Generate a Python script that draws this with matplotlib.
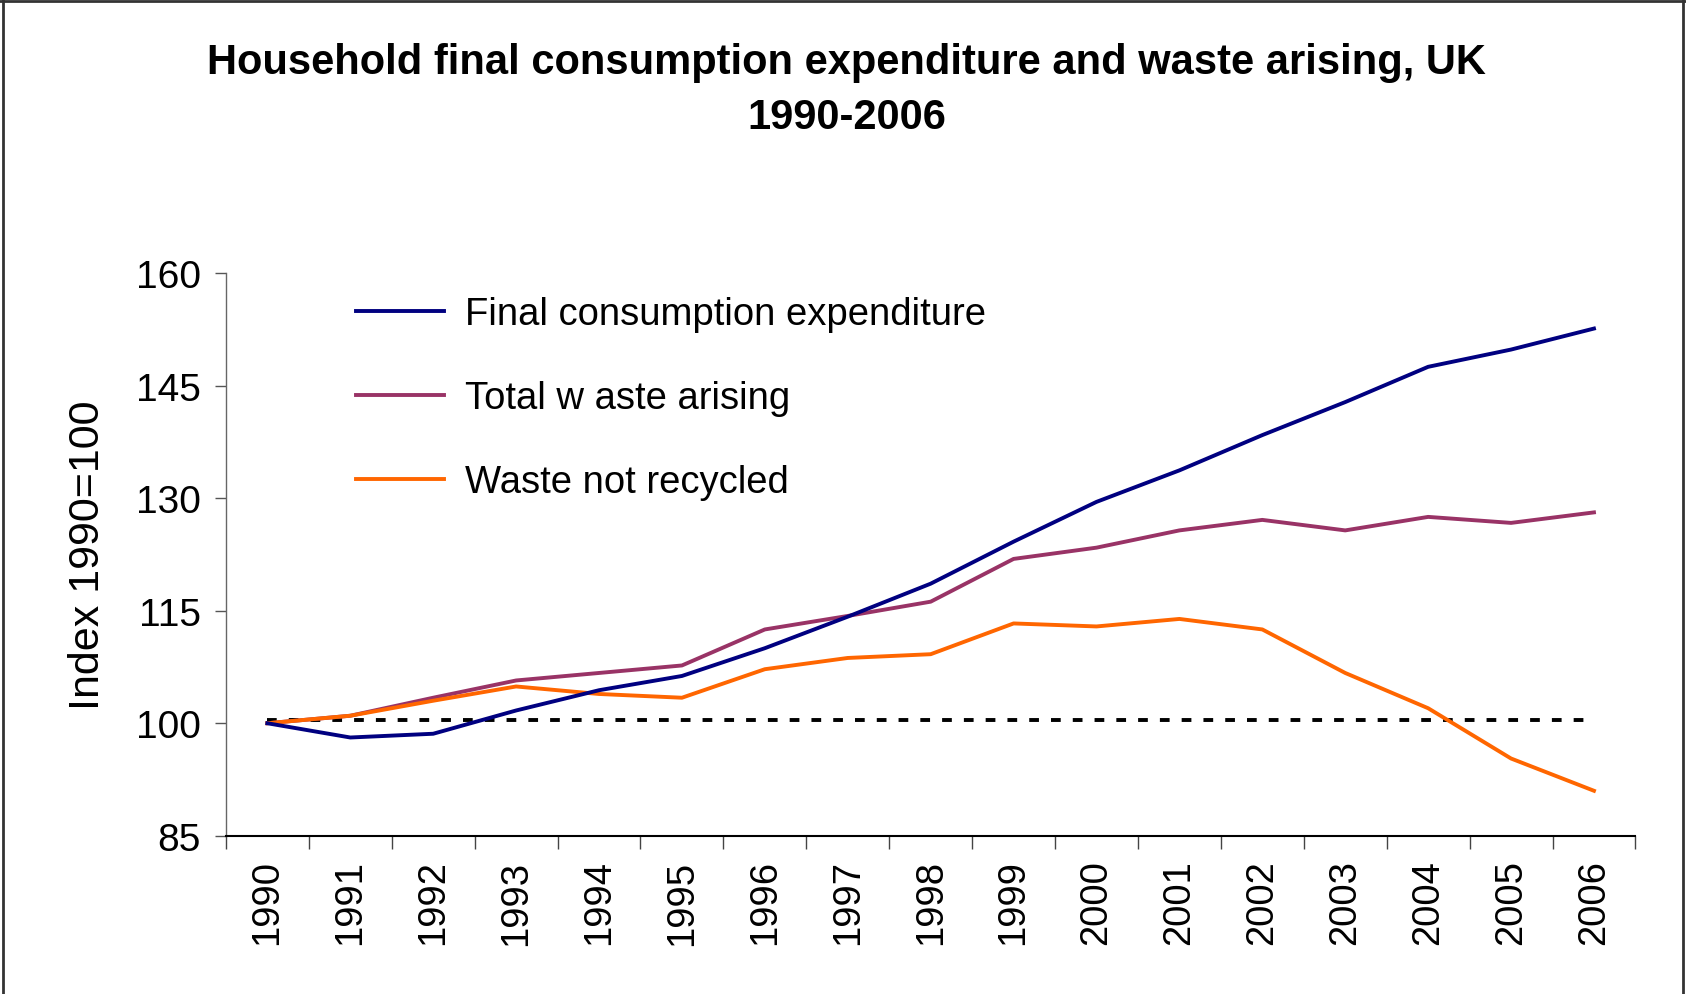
import matplotlib
matplotlib.use("Agg")
import matplotlib.pyplot as plt
from matplotlib.lines import Line2D

years = ["1990", "1991", "1992", "1993", "1994", "1995", "1996", "1997", "1998",
         "1999", "2000", "2001", "2002", "2003", "2004", "2005", "2006"]
consumption = [100, 98.1, 98.6, 101.7, 104.4, 106.3, 110.0, 114.2, 118.6,
               124.2, 129.5, 133.7, 138.4, 142.8, 147.5, 149.8, 152.6]
total_waste = [100, 101.0, 103.4, 105.7, 106.7, 107.7, 112.5, 114.3, 116.2,
               121.9, 123.4, 125.7, 127.1, 125.7, 127.5, 126.7, 128.1]
not_recycled = [100, 101.0, 103.0, 104.9, 103.9, 103.4, 107.2, 108.7, 109.2,
                113.3, 112.9, 113.9, 112.5, 106.7, 102.0, 95.3, 91.0]
baseline = [100.4] * len(years)
yticks = [85, 100, 115, 130, 145, 160]
labels = ["Final consumption expenditure", "Total w aste arising", "Waste not recycled"]
title = "Household final consumption expenditure and waste arising, UK\n1990-2006"

plt.rcParams['font.family'] = ['Liberation Sans', 'DejaVu Sans']

fig = plt.figure(figsize=(16.86, 9.95), dpi=100)
ax = fig.add_axes([0.134, 0.159, 0.836, 0.5656])

x = list(range(len(years)))
lw = 2.8
ax.plot(x, baseline, color="black", lw=2.8, linestyle=(0, (2.5, 3.1)), zorder=1)
l1, = ax.plot(x, consumption, color="#000080", lw=lw, zorder=3)
l2, = ax.plot(x, total_waste, color="#993366", lw=lw, zorder=2)
l3, = ax.plot(x, not_recycled, color="#FF6600", lw=lw, zorder=2)

ax.set_xlim(-0.5, len(years) - 0.5)
ax.set_ylim(85, 160)
ax.set_yticks(yticks)
ax.set_yticklabels([str(v) for v in yticks], fontsize=28)
ax.set_xticks(x)
ax.set_xticklabels(years, rotation=90, fontsize=27.5)
ax.set_xticks([i - 0.5 for i in range(len(years) + 1)], minor=True)
ax.tick_params(axis='x', which='major', length=0, pad=17)
ax.tick_params(axis='x', which='minor', length=9, width=1, color="#444444")
ax.tick_params(axis='y', which='major', length=8, width=1, color="#555555", pad=10)

for s in ["top", "right"]:
    ax.spines[s].set_visible(False)
ax.spines["left"].set_color("#666666")
ax.spines["left"].set_linewidth(1)
ax.spines["bottom"].set_color("black")
ax.spines["bottom"].set_linewidth(1.5)

ax.set_ylabel("Index 1990=100", fontsize=31, labelpad=20)

leg = ax.legend([l1, l2, l3], labels, loc="upper left", bbox_to_anchor=(0.068, 1.02),
                frameon=False, fontsize=27.5, handlelength=2.3, handletextpad=0.55,
                labelspacing=1.26)

fig.text(0.502, 0.957, title, ha="center", va="top", fontsize=30,
         fontweight="bold", linespacing=1.5)

# figure border (left, top, right)
fig.add_artist(Line2D([0.0015, 0.0015], [0, 0.999], transform=fig.transFigure,
                      color="#333333", lw=2))
fig.add_artist(Line2D([0, 1], [0.998, 0.998], transform=fig.transFigure,
                      color="#333333", lw=2))
fig.add_artist(Line2D([0.9985, 0.9985], [0, 0.999], transform=fig.transFigure,
                      color="#333333", lw=2))

fig.savefig("out.png", dpi=100)
